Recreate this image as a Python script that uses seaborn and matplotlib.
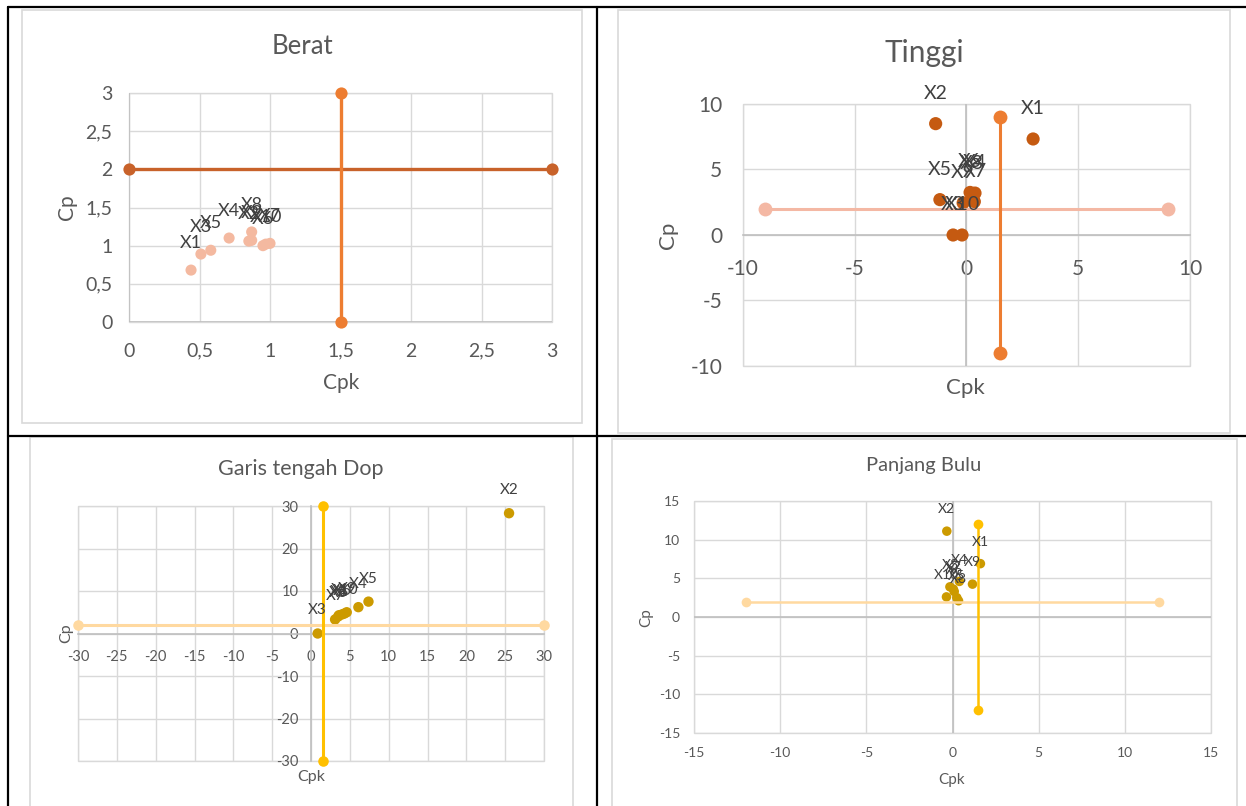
import matplotlib
matplotlib.use('Agg')
import matplotlib.pyplot as plt
import seaborn as sns
from matplotlib.lines import Line2D
from matplotlib.patches import Rectangle
from matplotlib.ticker import FuncFormatter

# ---------------------------------------------------------
# Data
# ---------------------------------------------------------
labels = ['X1', 'X2', 'X3', 'X4', 'X5', 'X6', 'X7', 'X8', 'X9', 'X10']

berat_cpk = [0.44, 0.85, 0.51, 0.71, 0.58, 0.95, 1.00, 0.87, 0.87, 0.97]
berat_cp = [0.68, 1.06, 0.89, 1.10, 0.94, 1.00, 1.03, 1.18, 1.07, 1.02]
berat_h_cpk, berat_h_cp = [0, 3], [2, 2]
berat_v_cpk, berat_v_cp = [1.5, 1.5], [0, 3]

tinggi_cpk = [2.98, -1.38, -0.60, 0.38, -1.19, 0.16, 0.35, 0.25, -0.15, -0.20]
tinggi_cp = [7.33, 8.50, 0.00, 3.20, 2.70, 3.25, 2.55, 3.10, 2.45, 0.00]
tinggi_h_cpk, tinggi_h_cp = [-9, 9], [2, 2]
tinggi_v_cpk, tinggi_v_cp = [1.5, 1.5], [-9, 9]

dop_cpk = [3.6, 25.5, 0.86, 6.1, 7.4, 4.0, 3.1, 3.5, 4.6, 4.3]
dop_cp = [4.3, 28.3, 0.0, 6.2, 7.5, 4.5, 3.3, 4.0, 5.0, 4.7]
dop_h_cpk, dop_h_cp = [-30, 30], [2, 2]
dop_v_cpk, dop_v_cp = [1.5, 1.5], [-30, 30]

bulu_cpk = [1.62, -0.33, -0.15, 0.40, 0.25, 0.10, 0.05, 0.35, 1.16, -0.35]
bulu_cp = [6.9, 11.1, 3.9, 4.6, 2.5, 3.3, 3.6, 2.1, 4.25, 2.6]
bulu_h_cpk, bulu_h_cp = [-12, 12], [2, 2]
bulu_v_cpk, bulu_v_cp = [1.5, 1.5], [-12, 12]

# ---------------------------------------------------------
# Style
# ---------------------------------------------------------
sns.set_style('white')
plt.rcParams['font.family'] = ['Lato', 'DejaVu Sans']
plt.rcParams['axes.unicode_minus'] = False

W, H = 1246, 806
TXT = '#595959'
LBL = '#404040'
GRID = '#D9D9D9'
AXL = '#BFBFBF'

fig = plt.figure(figsize=(W / 100, H / 100), dpi=100)


def fx(x):
    return x / W


def fy(y):
    return 1 - y / H


def make_axes(left, top, right, bottom):
    return fig.add_axes([fx(left), fy(bottom), (right - left) / W, (bottom - top) / H])


def comma(v, pos):
    s = f'{v:g}'
    return s.replace('.', ',')


def base_style(ax, xlim, ylim, xticks, yticks, fs, xpad, ypad):
    ax.set_xlim(xlim)
    ax.set_ylim(ylim)
    ax.set_xticks(xticks)
    ax.set_yticks(yticks)
    ax.grid(True, color=GRID, lw=1)
    ax.set_axisbelow(True)
    for s in ax.spines.values():
        s.set_visible(False)
    ax.add_patch(Rectangle((0, 0), 1, 1, transform=ax.transAxes, fill=False,
                           ec=GRID, lw=1, clip_on=False, zorder=0.5))
    ax.tick_params(axis='both', length=0, labelsize=fs, labelcolor=TXT)
    ax.tick_params(axis='x', pad=xpad)
    ax.tick_params(axis='y', pad=ypad)
    ax.set_xlabel('')
    ax.set_ylabel('')
    ax.patch.set_alpha(0)


def draw_series(ax, cpk, cp, pt_color, s, h_x, h_y, h_color, v_x, v_y, v_color,
                lw, ms, fs_lbl, off):
    sns.scatterplot(x=cpk, y=cp, ax=ax, color=pt_color, s=s, edgecolor='none',
                    zorder=3, legend=False)
    sns.lineplot(x=h_x, y=h_y, ax=ax, color=h_color, lw=lw, marker='o', ms=ms,
                 markeredgewidth=0, estimator=None, sort=False, zorder=4,
                 clip_on=False)
    sns.lineplot(x=v_x, y=v_y, ax=ax, color=v_color, lw=lw, marker='o', ms=ms,
                 markeredgewidth=0, estimator=None, sort=False, zorder=4,
                 clip_on=False)
    for lb, x, y in zip(labels, cpk, cp):
        ax.annotate(lb, (x, y), xytext=(0, off), textcoords='offset points',
                    ha='center', va='center', fontsize=fs_lbl, color=LBL,
                    zorder=6, annotation_clip=False)
    ax.set_xlabel('')
    ax.set_ylabel('')


# ---------------------------------------------------------
# 1. Berat
# ---------------------------------------------------------
ax1 = make_axes(129, 93, 552, 322)
base_style(ax1, (0, 3), (0, 3), [0, 0.5, 1, 1.5, 2, 2.5, 3],
           [0, 0.5, 1, 1.5, 2, 2.5, 3], 14, 15, 12)
ax1.xaxis.set_major_formatter(FuncFormatter(comma))
ax1.yaxis.set_major_formatter(FuncFormatter(comma))
ax1.axhline(0, color=AXL, lw=1.2, zorder=1)
ax1.axvline(0, color=AXL, lw=1.2, zorder=1)
draw_series(ax1, berat_cpk, berat_cp, '#F4B9A0', 64,
            berat_h_cpk, berat_h_cp, '#C8622A', berat_v_cpk, berat_v_cp, '#ED7D31',
            2.4, 8.8, 13, 19.5)

# ---------------------------------------------------------
# 2. Tinggi
# ---------------------------------------------------------
ax2 = make_axes(743, 104, 1190, 366)
base_style(ax2, (-10, 10), (-10, 10), [-10, -5, 0, 5, 10],
           [-10, -5, 0, 5, 10], 15, 17, 15)
ax2.spines['bottom'].set_visible(True)
ax2.spines['bottom'].set_position(('data', 0))
ax2.spines['bottom'].set_color(AXL)
ax2.spines['bottom'].set_linewidth(1.2)
ax2.axvline(0, color=AXL, lw=1.2, zorder=1)
draw_series(ax2, tinggi_cpk, tinggi_cp, '#C55A11', 90,
            tinggi_h_cpk, tinggi_h_cp, '#F4B8A4', tinggi_v_cpk, tinggi_v_cp, '#ED7D31',
            2.2, 10, 14, 22)

# ---------------------------------------------------------
# 3. Garis tengah Dop
# ---------------------------------------------------------
ax3 = make_axes(78, 506, 544, 761)
base_style(ax3, (-30, 30), (-30, 30), list(range(-30, 31, 5)),
           [-30, -20, -10, 0, 10, 20, 30], 10.5, 12, 9)
for side in ['bottom', 'left']:
    ax3.spines[side].set_visible(True)
    ax3.spines[side].set_position(('data', 0))
    ax3.spines[side].set_color(AXL)
    ax3.spines[side].set_linewidth(1.2)
draw_series(ax3, dop_cpk, dop_cp, '#CC9A00', 56,
            dop_h_cpk, dop_h_cp, '#FFD9A0', dop_v_cpk, dop_v_cp, '#FFC000',
            2.2, 7.6, 11, 16.6)

# ---------------------------------------------------------
# 4. Panjang Bulu
# ---------------------------------------------------------
ax4 = make_axes(694, 501, 1211, 733)
base_style(ax4, (-15, 15), (-15, 15), [-15, -10, -5, 0, 5, 10, 15],
           [-15, -10, -5, 0, 5, 10, 15], 10, 10, 10)
ax4.axhline(0, color=AXL, lw=1.2, zorder=1)
ax4.axvline(0, color=AXL, lw=1.2, zorder=1)
draw_series(ax4, bulu_cpk, bulu_cp, '#CC9A00', 47,
            bulu_h_cpk, bulu_h_cp, '#FFD9A0', bulu_v_cpk, bulu_v_cp, '#FFC000',
            1.8, 7, 10, 15.6)

# ---------------------------------------------------------
# Titles and axis titles
# ---------------------------------------------------------
texts = [
    ('Berat', 302, 47, 18.5, 0), ('Cp', 67, 207, 15, 90), ('Cpk', 341, 383, 15, 0),
    ('Tinggi', 924, 53, 21.5, 0), ('Cp', 668, 235, 16, 90), ('Cpk', 965, 388, 16, 0),
    ('Garis tengah Dop', 301, 469, 15.5, 0), ('Cp', 66, 633, 11.5, 90), ('Cpk', 311, 777, 11.5, 0),
    ('Panjang Bulu', 924, 466, 14.5, 0), ('Cp', 646, 618, 11, 90), ('Cpk', 952, 780, 11, 0),
]
for t, x, y, fs, rot in texts:
    fig.text(fx(x), fy(y), t, ha='center', va='center', fontsize=fs, color=TXT, rotation=rot)

# ---------------------------------------------------------
# Chart area borders and the table grid
# ---------------------------------------------------------
for l, t, r, b in [(22, 10, 582, 423), (618, 10, 1230, 433), (30, 437, 573, 812), (612, 439, 1237, 812)]:
    fig.add_artist(Rectangle((fx(l), fy(b)), (r - l) / W, (b - t) / H, transform=fig.transFigure,
                             fill=False, ec=GRID, lw=1.2))

for xs, ys in [([8, 1246], [7, 7]), ([8, 1246], [436, 436]), ([8, 8], [7, 806]), ([597, 597], [7, 806])]:
    fig.add_artist(Line2D([fx(v) for v in xs], [fy(v) for v in ys], transform=fig.transFigure,
                          color='black', lw=1.6))

fig.savefig('out.png', dpi=100, facecolor='white')
